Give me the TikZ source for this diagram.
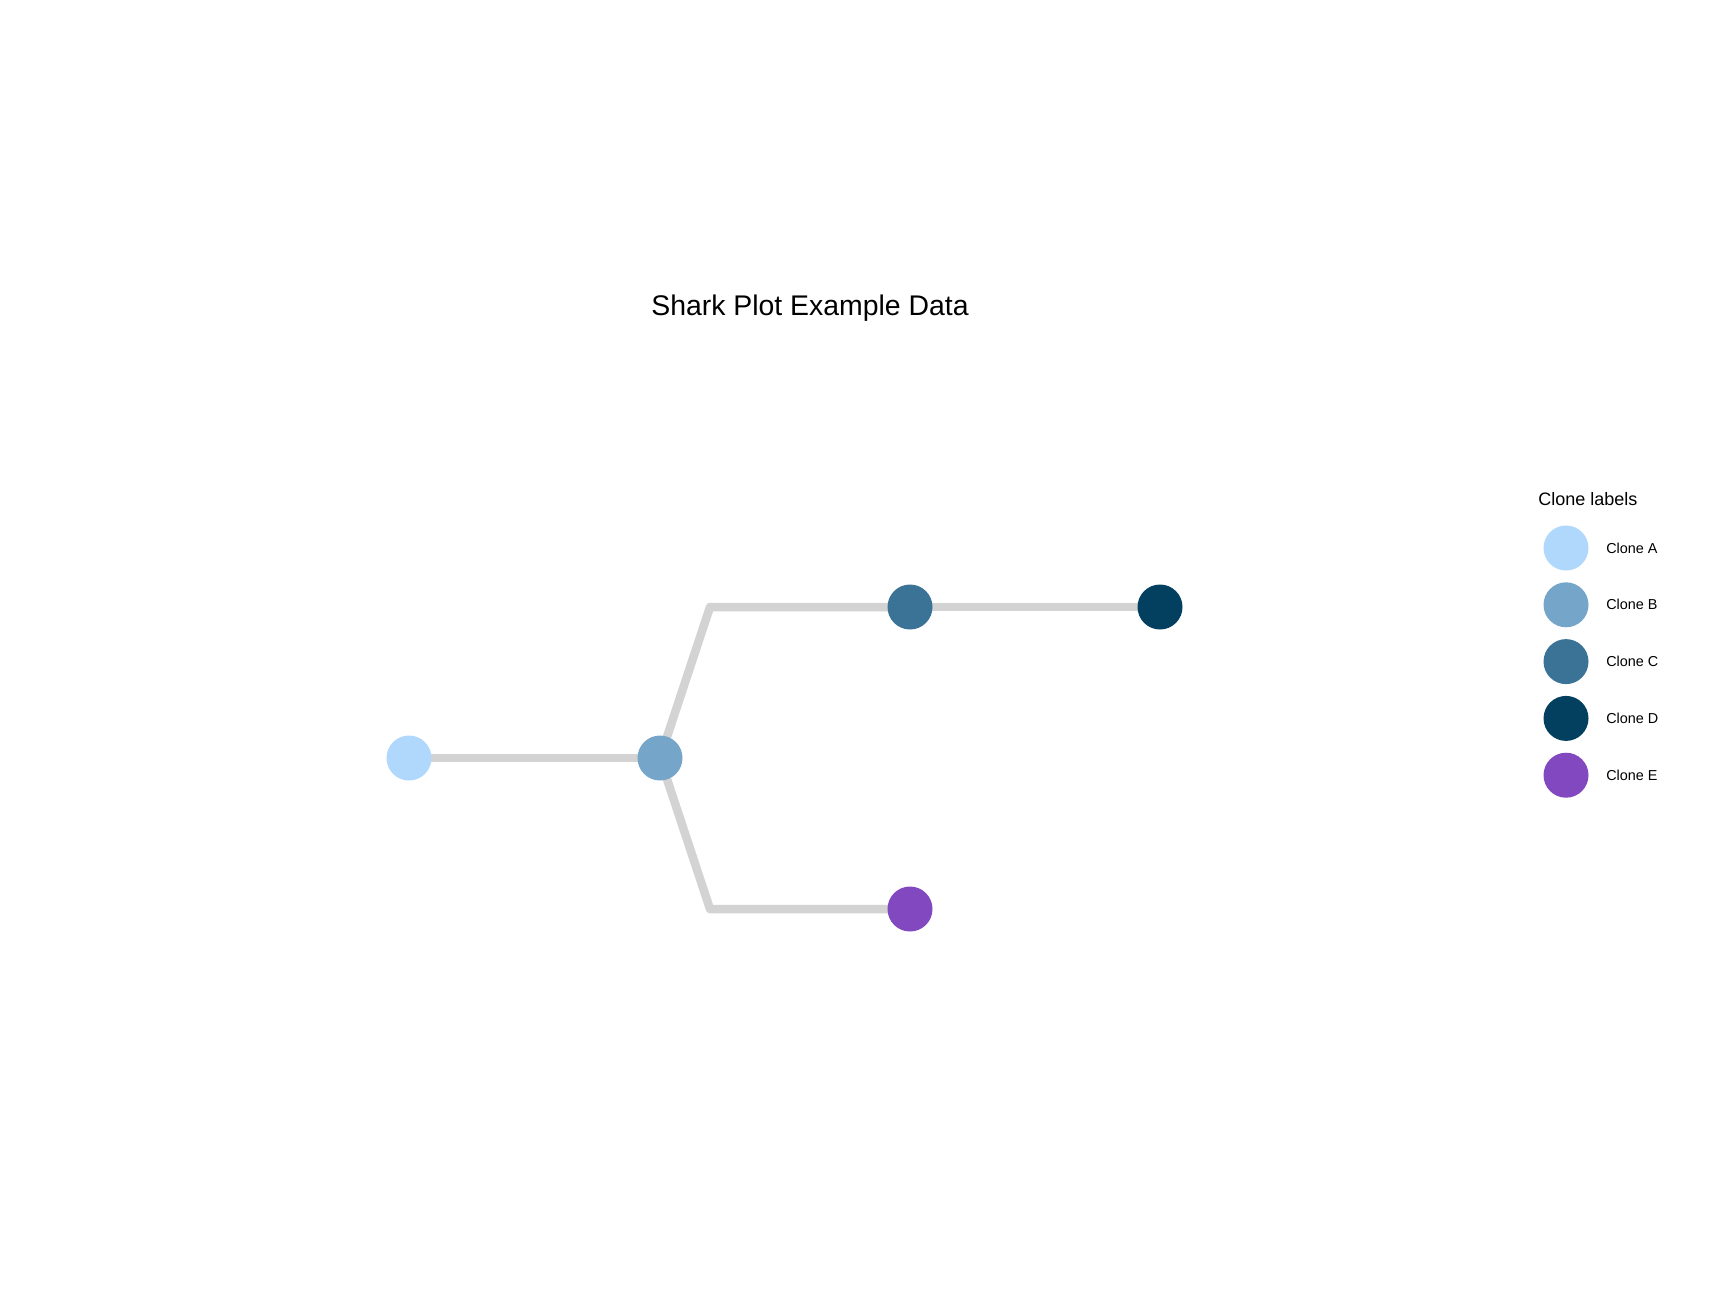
\documentclass[tikz,border=0pt]{standalone}
\usepackage{fontspec}
\setmainfont{Liberation Sans}
\usetikzlibrary{backgrounds,positioning}
\definecolor{cloneA}{HTML}{B0D7FC}
\definecolor{cloneB}{HTML}{76A5CA}
\definecolor{cloneC}{HTML}{3A7395}
\definecolor{cloneD}{HTML}{03405F}
\definecolor{cloneE}{HTML}{8148C0}
\definecolor{edgegray}{HTML}{D3D3D3}
\tikzset{
	clone/.style={circle,inner sep=0pt,minimum size=22.5pt},
	branch/.style={draw=edgegray,line width=4.25pt,line join=round},
	keytext/.style={inner sep=0pt,font=\fontsize{7.2}{8}\selectfont}
}

\begin{document}
\begin{tikzpicture}[x=0.5pt,y=-0.5pt]
	\useasboundingbox (0,0) rectangle (1728,1296);
	\node[anchor=base,font=\fontsize{14.2}{16}\selectfont] (title) at (810,315) {Shark Plot Example Data};
	\node[clone,fill=cloneA] (A) at (409,758) {};
	\node[clone,fill=cloneB] (B) at (660,758) {};
	\node[clone,fill=cloneC] (C) at (910,607) {};
	\node[clone,fill=cloneD] (D) at (1160,607) {};
	\node[clone,fill=cloneE] (E) at (910,909) {};
	\coordinate (up) at (710,607);
	\coordinate (down) at (710,909);
	\begin{pgfonlayer}{background}
		\draw[branch] (A.center) -- (B.center);
		\draw[branch] (B.center) -- (up) -- (C.center);
		\draw[branch] (C.center) -- (D.center);
		\draw[branch] (B.center) -- (down) -- (E.center);
	\end{pgfonlayer}
	\node[anchor=base west,inner sep=0pt,font=\fontsize{9}{10}\selectfont] (keytitle) at (1538,505) {Clone labels};
	\foreach \n [count=\i] in {A,B,C,D,E} {
		\node[clone,fill=clone\n] (key\n) at (1566,{548+(\i-1)*56.8}) {};
		\node[keytext,anchor=west,right=8.5pt of key\n] (keylabel\n) {Clone \n};
	}
\end{tikzpicture}
\end{document}
